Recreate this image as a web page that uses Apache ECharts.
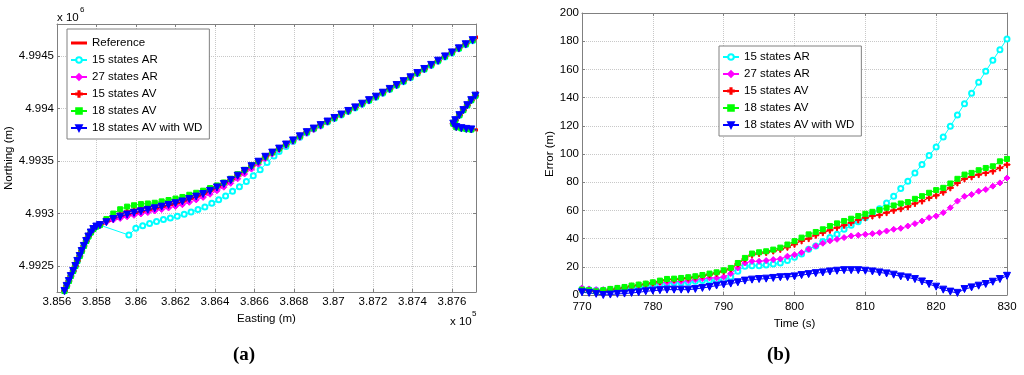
<!DOCTYPE html>
<html>
<head>
<meta charset="utf-8">
<script src="https://cdn.jsdelivr.net/npm/echarts@6/dist/echarts.min.js"></script>
<style>
    html, body { margin: 0; padding: 0; background: #fff; }
    #chart-main { width: 1024px; height: 375px; }
</style>
</head>
<body>
<div id="chart-main"></div>
<script>
// (a) 轨迹 Easting / Northing (m)
var trackE = [385627, 385638, 385649, 385660, 385670, 385682, 385693, 385703, 385715, 385725, 385736, 385748, 385759, 385771, 385784, 385799, 385817,
    385850, 385885, 385920, 385955, 385990, 386025, 386060, 386095, 386130, 386165, 386200, 386235, 386270, 386305, 386340, 386375, 386410, 386445,
    386480, 386515, 386550, 386585, 386620, 386655, 386690, 386725, 386760, 386795, 386830, 386865, 386900, 386935, 386970, 387005, 387040, 387075,
    387110, 387145, 387180, 387215, 387250, 387285, 387320, 387355, 387390, 387425, 387460, 387495, 387530, 387565, 387600, 387635, 387670, 387705, 387740];
var steepN = [4992212, 4992260, 4992308, 4992355, 4992402, 4992450, 4992498, 4992546, 4992593, 4992641, 4992689, 4992736, 4992779, 4992817, 4992850, 4992874, 4992888];
var refN = steepN.concat([4992916, 4992943, 4992963, 4992982, 4992999, 4993013, 4993027, 4993042, 4993058, 4993074, 4993090, 4993107, 4993130, 4993154,
    4993178, 4993208, 4993241, 4993274, 4993310, 4993354, 4993400, 4993446, 4993490, 4993538, 4993579, 4993617, 4993656, 4993695, 4993734, 4993774,
    4993808, 4993841, 4993875, 4993909, 4993942, 4993976, 4994010, 4994045, 4994079, 4994112, 4994150, 4994186, 4994223, 4994260, 4994297, 4994337,
    4994376, 4994415, 4994455, 4994496, 4994534, 4994573, 4994612, 4994651, 4994690]);
var ar27N = steepN.concat([4992916, 4992936, 4992951, 4992967, 4992981, 4992994, 4993007, 4993022, 4993036, 4993051, 4993066, 4993082, 4993105, 4993128,
    4993152, 4993182, 4993215, 4993249, 4993286, 4993329, 4993375, 4993422, 4993468, 4993520, 4993565, 4993606, 4993646, 4993685, 4993724, 4993764,
    4993798, 4993831, 4993870, 4993904, 4993937, 4993971, 4994005, 4994040, 4994074, 4994107, 4994145, 4994181, 4994218, 4994255, 4994292, 4994332,
    4994371, 4994410, 4994450, 4994491, 4994529, 4994568, 4994607, 4994646, 4994685]);
var av15N = steepN.concat([4992928, 4992967, 4992996, 4993018, 4993034, 4993047, 4993057, 4993069, 4993084, 4993099, 4993114, 4993130, 4993152, 4993174,
    4993197, 4993225, 4993255, 4993286, 4993322, 4993365, 4993408, 4993452, 4993494, 4993539, 4993580, 4993618, 4993657, 4993696, 4993735, 4993775,
    4993809, 4993842, 4993876, 4993910, 4993943, 4993977, 4994011, 4994046, 4994080, 4994113, 4994151, 4994187, 4994224, 4994261, 4994298, 4994338,
    4994377, 4994416, 4994456, 4994497, 4994535, 4994574, 4994613, 4994652, 4994691]);
var av18N = steepN.concat([4992945, 4992998, 4993039, 4993064, 4993077, 4993088, 4993094, 4993101, 4993114, 4993127, 4993141, 4993156, 4993177, 4993196,
    4993216, 4993241, 4993266, 4993294, 4993330, 4993373, 4993415, 4993457, 4993496, 4993540, 4993581, 4993619, 4993658, 4993697, 4993736, 4993776,
    4993810, 4993843, 4993877, 4993911, 4993944, 4993978, 4994012, 4994047, 4994081, 4994114, 4994152, 4994188, 4994225, 4994262, 4994299, 4994339,
    4994378, 4994417, 4994457, 4994498, 4994536, 4994575, 4994614, 4994653, 4994692]);
var avwdN = steepN.concat([4992916, 4992946, 4992968, 4992988, 4993005, 4993019, 4993033, 4993048, 4993064, 4993080, 4993096, 4993113, 4993136, 4993160,
    4993184, 4993214, 4993247, 4993280, 4993316, 4993359, 4993404, 4993449, 4993492, 4993539, 4993579, 4993617, 4993656, 4993695, 4993734, 4993774,
    4993808, 4993841, 4993875, 4993909, 4993942, 4993976, 4994010, 4994045, 4994079, 4994112, 4994150, 4994186, 4994223, 4994260, 4994297, 4994337,
    4994376, 4994415, 4994455, 4994496, 4994534, 4994573, 4994612, 4994651, 4994690]);
// 15 states AR 在 3.858 后跳变
var cyanE = trackE.slice(0, 17).concat([385964, 385999, 386034, 386069, 386104, 386139, 386174, 386209, 386244, 386279, 386314, 386349, 386384,
    386419, 386454, 386489, 386524, 386559, 386594, 386629, 386664, 386699]).concat(trackE.slice(42));
var cyanN = steepN.concat([4992793, 4992857, 4992881, 4992903, 4992922, 4992940, 4992955, 4992972, 4992991, 4993013, 4993036, 4993061, 4993095,
    4993129, 4993165, 4993210, 4993254, 4993303, 4993359, 4993416, 4993484, 4993546,
    4993589, 4993637, 4993684, 4993725, 4993767, 4993803, 4993836, 4993870, 4993904, 4993937, 4993971, 4994005, 4994040, 4994074, 4994107,
    4994145, 4994181, 4994218, 4994255, 4994292, 4994332, 4994371, 4994410, 4994450, 4994491, 4994529, 4994568, 4994607, 4994646, 4994685]);
// 右侧回折段
var hookE = [387739, 387719, 387698, 387678, 387658, 387638, 387617, 387607, 387622, 387648, 387673, 387698, 387724, 387744];
var hookN = [4994165, 4994122, 4994079, 4994031, 4993984, 4993936, 4993888, 4993855, 4993822, 4993812, 4993805, 4993800, 4993797, 4993793];
var eastTicks = [385600, 385800, 386000, 386200, 386400, 386600, 386800, 387000, 387200, 387400, 387600];
var northTicks = [4992500, 4993000, 4993500, 4994000, 4994500];

// (b) 误差 Error (m) vs Time (s)
var times = [770, 771, 772, 773, 774, 775, 776, 777, 778, 779, 780, 781, 782, 783, 784, 785, 786, 787, 788, 789, 790, 791, 792, 793, 794, 795, 796,
    797, 798, 799, 800, 801, 802, 803, 804, 805, 806, 807, 808, 809, 810, 811, 812, 813, 814, 815, 816, 817, 818, 819, 820, 821, 822, 823, 824, 825,
    826, 827, 828, 829, 830];
var err15AR = [4.3, 3.8, 3.4, 3.4, 3.4, 4.3, 4.5, 5.0, 5.7, 6.2, 6.9, 7.4, 8.1, 8.6, 8.6, 9.0, 9.7, 10.2, 10.4, 10.4, 10.9, 12.8, 16.8, 20.4, 20.8,
    20.8, 21.3, 22.0, 22.7, 24.4, 26.8, 29.0, 32.5, 34.8, 37.9, 40.7, 43.0, 46.6, 49.4, 52.0, 54.8, 57.9, 61.2, 65.2, 70.0, 75.5, 80.6, 86.6, 92.5,
    98.9, 105.0, 112.0, 119.6, 127.7, 135.7, 143.0, 150.9, 158.7, 166.5, 174.0, 181.6];
var err27AR = [5.0, 4.3, 3.8, 3.8, 4.3, 5.0, 5.0, 5.7, 6.7, 7.4, 8.1, 8.6, 9.0, 9.7, 9.7, 10.2, 10.9, 11.6, 12.1, 12.1, 12.8, 15.2, 19.2, 22.7, 23.9,
    23.9, 24.4, 25.1, 25.6, 27.5, 28.5, 30.1, 32.5, 34.8, 36.7, 38.4, 39.5, 40.7, 41.9, 42.4, 43.0, 43.5, 44.2, 45.4, 46.6, 47.3, 48.9, 50.6, 52.5,
    54.8, 56.0, 58.4, 61.9, 66.6, 70.0, 71.3, 73.6, 74.8, 77.2, 79.5, 83.0];
var err15AV = [3.3, 2.9, 2.2, 2.9, 3.8, 4.5, 5.2, 6.2, 6.9, 7.6, 8.5, 9.6, 10.8, 11.0, 11.5, 12.0, 12.7, 13.6, 14.5, 15.4, 16.8, 18.5, 22.0, 25.5,
    28.5, 29.5, 30.2, 31.2, 32.4, 33.9, 36.0, 38.4, 40.0, 42.4, 44.2, 45.9, 47.8, 49.4, 51.3, 53.2, 54.8, 56.0, 56.7, 58.4, 60.0, 61.2, 62.6, 64.9,
    66.6, 68.9, 70.6, 72.9, 76.0, 79.5, 82.4, 83.8, 85.4, 86.6, 87.8, 90.1, 92.5];
var err18AV = [3.8, 3.4, 2.6, 3.4, 4.3, 5.0, 5.7, 6.7, 7.4, 8.1, 9.0, 10.2, 11.4, 11.6, 12.1, 12.6, 13.3, 14.2, 15.2, 16.1, 17.5, 19.2, 22.7, 26.3,
    29.4, 30.3, 31.0, 32.2, 33.6, 35.8, 38.2, 40.7, 43.0, 44.7, 46.6, 48.9, 50.8, 52.5, 54.1, 56.0, 57.6, 59.0, 60.2, 61.9, 63.5, 64.9, 65.9, 68.2,
    70.1, 72.5, 74.4, 76.0, 79.1, 82.4, 85.4, 86.6, 88.5, 90.1, 91.3, 94.8, 96.5];
var err18AVWD = [1.9, 1.5, 0.8, 0.0, 0.3, 0.8, 1.0, 1.5, 1.9, 2.6, 3.1, 3.4, 3.8, 3.8, 3.8, 3.8, 4.3, 5.0, 5.7, 6.7, 7.4, 8.1, 9.0, 10.2, 10.9,
    11.3, 11.6, 12.1, 12.6, 12.8, 13.2, 14.1, 14.8, 15.5, 16.0, 16.7, 17.2, 17.6, 17.6, 17.6, 17.2, 16.7, 16.0, 15.3, 14.4, 13.2, 12.5, 11.3, 9.6,
    7.8, 5.9, 3.8, 2.4, 1.5, 4.2, 5.4, 6.6, 7.8, 9.4, 11.3, 13.6];

var legendNames = ['Reference', '15 states AR', '27 states AR', '15 states AV', '18 states AV', '18 states AV with WD'];
var timeTicks = [770, 780, 790, 800, 810, 820, 830];
var errTicks = [0, 20, 40, 60, 80, 100, 120, 140, 160, 180, 200];

function pairs(xs, ys) {
    return xs.map(function (x, i) { return [x, ys[i]]; });
}
function trackData(es, ns) {
    // 主轨迹 + 断开 + 回折段
    return pairs(es, ns).concat([['-', '-']], pairs(hookE, hookN));
}

var FONT = 'Liberation Sans, Arial, Helvetica, sans-serif';
var plusPath = 'path://M4,0H6V10H4ZM0,4H10V6H0Z';
var triDownPath = 'path://M0,0L10,0L5,9Z';
var thickLinePath = 'path://M0,0L0.01,0M0,2H16V5H0ZM16,7L15.99,7';

var styles = {
    '15 states AR': { color: '#00ffff', symbol: 'emptyCircle', size: 5 },
    '27 states AR': { color: '#ff00ff', symbol: 'diamond', size: 6 },
    '15 states AV': { color: '#ff0000', symbol: plusPath, size: 6 },
    '18 states AV': { color: '#00ff00', symbol: 'rect', size: 5 },
    '18 states AV with WD': { color: '#0000ff', symbol: triDownPath, size: 7 }
};

function makeLine(name, data, idx) {
    var s = styles[name];
    return {
        name: name,
        type: 'line',
        xAxisIndex: idx,
        yAxisIndex: idx,
        data: data,
        symbol: s.symbol,
        symbolSize: s.size,
        showAllSymbol: true,
        clip: true,
        lineStyle: { color: s.color, width: 1 },
        itemStyle: { color: s.color, borderColor: s.color, borderWidth: 1 },
        emphasis: { disabled: true },
        animation: false
    };
}

function valueAxis(idx, pos, min, max, ticks, fmt, name, nameGap, showLabel, labelMargin) {
    return {
        type: 'value',
        gridIndex: idx,
        position: pos,
        min: min,
        max: max,
        name: showLabel ? name : '',
        nameLocation: 'middle',
        nameGap: nameGap,
        nameTextStyle: { color: '#000', fontSize: 11.5, fontFamily: FONT },
        axisLine: { show: true, onZero: false, lineStyle: { color: '#808080', width: 1 } },
        axisTick: { show: true, inside: true, length: 3, customValues: ticks, lineStyle: { color: '#808080' } },
        axisLabel: {
            show: showLabel,
            customValues: ticks,
            color: '#000',
            fontSize: 11.5,
            fontFamily: FONT,
            margin: labelMargin || 3,
            formatter: fmt
        },
        splitLine: { show: showLabel, lineStyle: { color: '#c8c8c8', type: 'dotted', width: 1 } }
    };
}

function legendBox(names, left, top, padTop) {
    return {
        data: names.map(function (n) {
            return n === 'Reference' ? { name: n, icon: thickLinePath, itemStyle: { color: '#ff0000' } } : n;
        }),
        orient: 'vertical',
        left: left,
        top: top,
        padding: [padTop, 7, 4, 3],
        itemGap: 3,
        itemWidth: 16,
        itemHeight: 7,
        selectedMode: false,
        backgroundColor: '#fff',
        borderColor: '#808080',
        borderWidth: 1,
        borderRadius: 0,
        textStyle: { color: '#000', fontSize: 11.5, fontFamily: FONT, lineHeight: 14 }
    };
}

var chart = echarts.init(document.getElementById('chart-main'));

var fmtE = function (v) { return String(+(v / 1e5).toFixed(3)); };
var fmtN = function (v) { return String(+(v / 1e6).toFixed(4)); };
var fmtPlain = function (v) { return String(v); };

option = {
    backgroundColor: '#fff',
    animation: false,
    textStyle: { fontFamily: FONT },
    grid: [
        { left: 57, top: 24, width: 419, height: 268, show: false },
        { left: 582, top: 13, width: 425, height: 282, show: false }
    ],
    xAxis: [
        valueAxis(0, 'bottom', 385600, 387722, eastTicks, fmtE, 'Easting (m)', 18, true, 4),
        valueAxis(1, 'bottom', 770, 830, timeTicks, fmtPlain, 'Time (s)', 18, true, 6),
        valueAxis(0, 'top', 385600, 387722, eastTicks, fmtE, '', 0, false),
        valueAxis(1, 'top', 770, 830, timeTicks, fmtPlain, '', 0, false)
    ],
    yAxis: [
        valueAxis(0, 'left', 4992250, 4994805, northTicks, fmtN, 'Northing (m)', 38, true, 3),
        valueAxis(1, 'left', 0, 200, errTicks, fmtPlain, 'Error (m)', 21, true, 3),
        valueAxis(0, 'right', 4992250, 4994805, northTicks, fmtN, '', 0, false),
        valueAxis(1, 'right', 0, 200, errTicks, fmtPlain, '', 0, false)
    ],
    legend: [
        legendBox(legendNames, 67, 29, 7),
        legendBox(legendNames.slice(1), 719, 46, 4)
    ],
    graphic: [
        { type: 'text', left: 57, top: 12, style: { text: 'x 10', fill: '#000', font: '11.5px ' + FONT } },
        { type: 'text', left: 80, top: 6, style: { text: '6', fill: '#000', font: '8px ' + FONT } },
        { type: 'text', left: 450, top: 316, style: { text: 'x 10', fill: '#000', font: '11.5px ' + FONT } },
        { type: 'text', left: 472, top: 310, style: { text: '5', fill: '#000', font: '8px ' + FONT } },
        { type: 'text', left: 233, top: 346, style: { text: '(a)', fill: '#000', font: 'bold 19px Liberation Serif, Times New Roman, serif' } },
        { type: 'text', left: 767, top: 346, style: { text: '(b)', fill: '#000', font: 'bold 19px Liberation Serif, Times New Roman, serif' } }
    ],
    series: [
        {
            name: 'Reference',
            type: 'line',
            xAxisIndex: 0,
            yAxisIndex: 0,
            data: trackData(trackE, refN),
            symbol: 'none',
            clip: true,
            lineStyle: { color: '#ff0000', width: 3 },
            itemStyle: { color: '#ff0000' },
            emphasis: { disabled: true },
            animation: false
        },
        makeLine('15 states AR', pairs(cyanE, cyanN).concat([['-', '-']], pairs(hookE, hookN)), 0),
        makeLine('27 states AR', trackData(trackE, ar27N), 0),
        makeLine('15 states AV', trackData(trackE, av15N), 0),
        makeLine('18 states AV', trackData(trackE, av18N), 0),
        makeLine('18 states AV with WD', trackData(trackE, avwdN), 0),

        makeLine('15 states AR', pairs(times, err15AR), 1),
        makeLine('27 states AR', pairs(times, err27AR), 1),
        makeLine('15 states AV', pairs(times, err15AV), 1),
        makeLine('18 states AV', pairs(times, err18AV), 1),
        makeLine('18 states AV with WD', pairs(times, err18AVWD), 1)
    ]
};

chart.setOption(option);
</script>
</body>
</html>
